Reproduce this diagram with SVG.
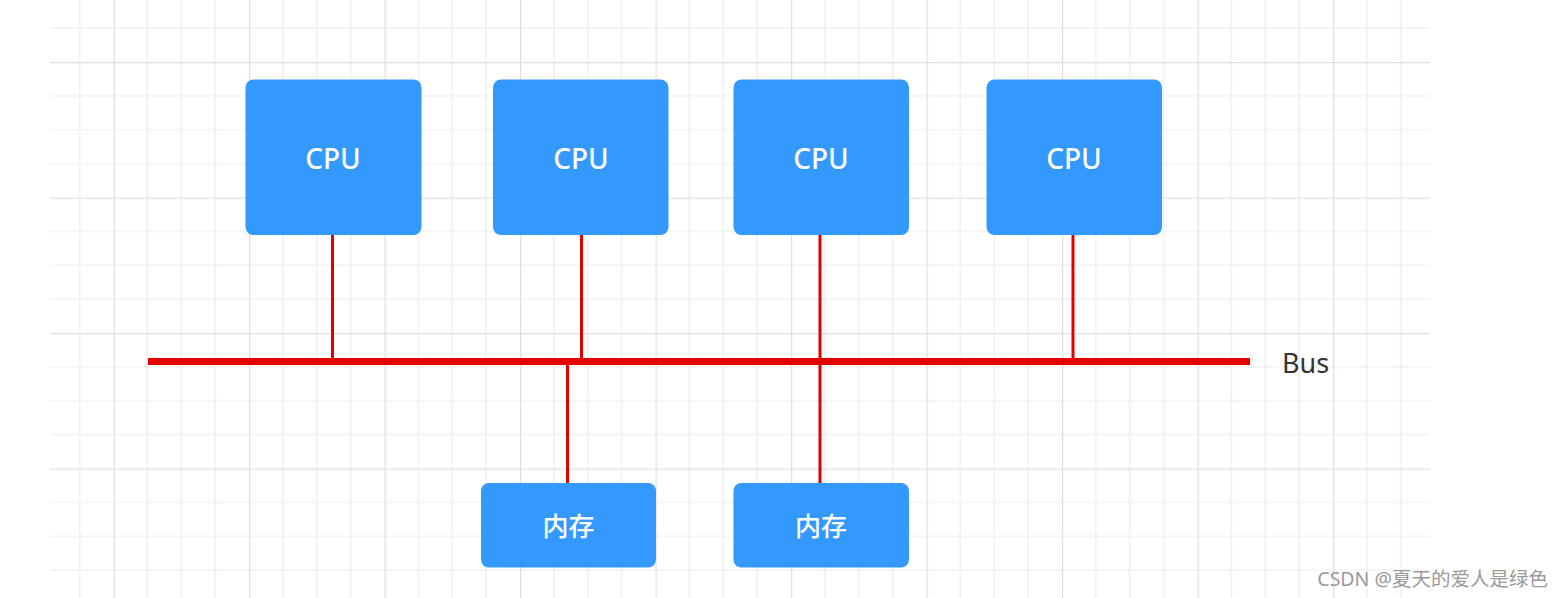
<svg xmlns="http://www.w3.org/2000/svg" width="1564" height="598" viewBox="0 0 1564 598">
  <defs>
    <pattern id="grid" patternUnits="userSpaceOnUse" x="113.5" y="62" width="135.5" height="135.5">
      <path d="M33.875 0V135.5M67.75 0V135.5M101.625 0V135.5M0 33.875H135.5M0 67.75H135.5M0 101.625H135.5" stroke="#ececec" stroke-width="1.2" fill="none"/>
      <path d="M0.5 0V135.5M0 0.5H135.5" stroke="#e0e0e0" stroke-width="1.6" fill="none"/>
    </pattern>
    <style>
      .box { fill: #3399ff; }
      .lbl { fill: #ffffff; font-family: "Noto Sans", "Open Sans", "Noto Sans CJK SC", sans-serif; text-anchor: middle; }
      .cpu { font-size: 28px; font-weight: 500; }
      .mem { font-size: 26px; font-family: "Noto Sans CJK SC", sans-serif; font-weight: 500; }
      .wire { stroke: #e50000; stroke-width: 3; fill: none; }
      .bus { stroke: #e50000; stroke-width: 7; fill: none; }
    </style>
  </defs>
  <rect width="1564" height="598" fill="#ffffff"/>
  <rect x="50" y="0" width="1380" height="598" fill="url(#grid)"/>

  <g id="connectors">
    <line class="wire" x1="332.5" y1="234" x2="332.5" y2="361"/>
    <line class="wire" x1="581.5" y1="234" x2="581.5" y2="361"/>
    <line class="wire" x1="820" y1="234" x2="820" y2="361"/>
    <line class="wire" x1="1073" y1="234" x2="1073" y2="361"/>
    <line class="wire" x1="567.5" y1="361" x2="567.5" y2="484"/>
    <line class="wire" x1="820" y1="361" x2="820" y2="484"/>
    <line id="bus" class="bus" x1="148" y1="361.5" x2="1250" y2="361.5"/>
  </g>

  <g id="cpu1"><rect class="box" x="245.5" y="79.5" width="176" height="155.5" rx="8"/><text class="lbl cpu" x="333" y="169">CPU</text></g>
  <g id="cpu2"><rect class="box" x="493" y="79.5" width="175.5" height="155.5" rx="8"/><text class="lbl cpu" x="581" y="169">CPU</text></g>
  <g id="cpu3"><rect class="box" x="733.5" y="79.5" width="175.5" height="155.5" rx="8"/><text class="lbl cpu" x="821" y="169">CPU</text></g>
  <g id="cpu4"><rect class="box" x="986.5" y="79.5" width="175.5" height="155.5" rx="8"/><text class="lbl cpu" x="1074" y="169">CPU</text></g>

  <g id="mem1"><rect class="box" x="481" y="483" width="175" height="84.5" rx="8"/><text class="lbl mem" x="568.5" y="536">内存</text></g>
  <g id="mem2"><rect class="box" x="733.5" y="483" width="175.5" height="84.5" rx="8"/><text class="lbl mem" x="821" y="536">内存</text></g>

  <g id="bus-label"><text x="1282" y="373" font-family="'Noto Sans', 'Open Sans', sans-serif" font-size="27" fill="#333333">Bus</text></g>

  <text x="1548" y="586" text-anchor="end" font-family="'Noto Sans', 'Noto Sans CJK SC', sans-serif" font-size="19.5" fill="#9a9a9a">CSDN @夏天的爱人是绿色</text>
</svg>
